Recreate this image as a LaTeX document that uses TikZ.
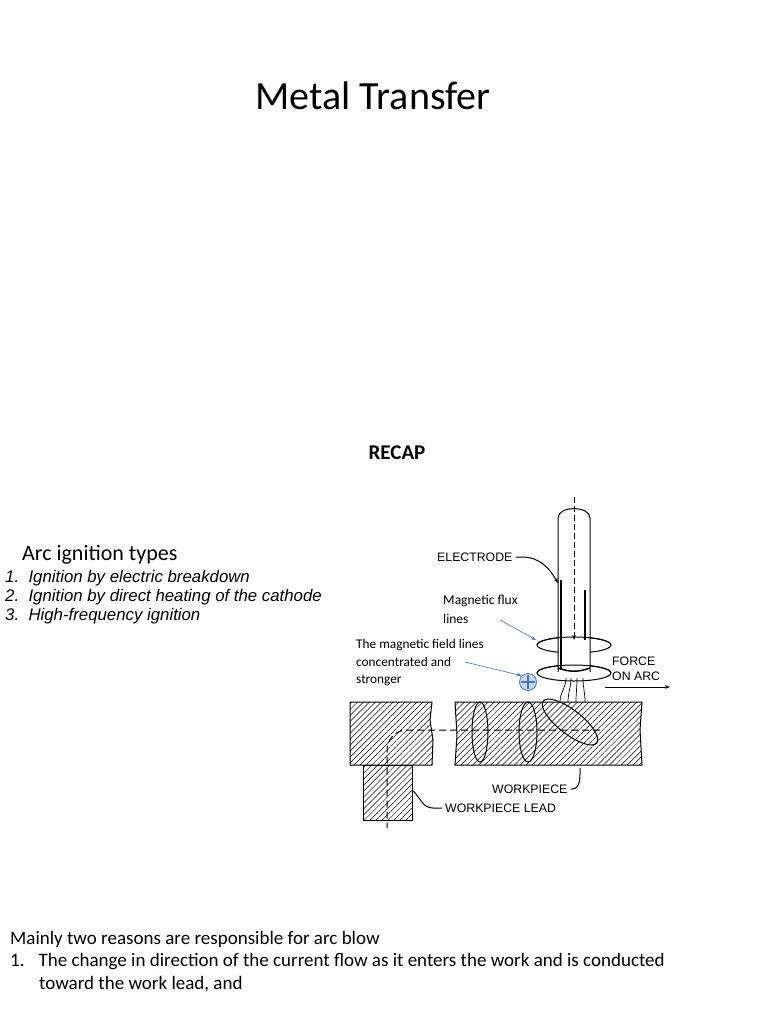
\documentclass[tikz,border=0pt]{standalone}
\usepackage{fontspec}
\setmainfont{Carlito}
\newfontfamily\arial{Liberation Sans}
\usetikzlibrary{patterns.meta,arrows.meta}
\definecolor{pblue}{RGB}{68,114,196}
\definecolor{pfill}{RGB}{200,215,240}
\begin{document}
\begin{tikzpicture}[x=1pt,y=-1pt,
  txt/.style={anchor=west,inner sep=0pt},
  lab/.style={anchor=west,inner sep=0pt,font=\arial\fontsize{12.3}{14}\selectfont},
  blk/.style={draw,line width=1pt,pattern={Lines[angle=45,distance=4.2pt,line width=0.5pt]}},
  ell/.style={draw,line width=1pt},
  blue/.style={draw=pblue,line width=0.6pt,-{Stealth[length=5pt]}}]
\useasboundingbox (0,0) rectangle (768,1024);
\fill[white] (0,0) rectangle (768,1024);
\node[inner sep=0pt] (title) at (373,96) {\fontsize{40}{44}\selectfont Metal Transfer};
\node[inner sep=0pt] (recap) at (397,453) {\fontsize{21}{24}\selectfont\bfseries RECAP};
\node[txt] (arc) at (22,555) {\fontsize{22}{26}\selectfont Arc ignition types};
\node[txt] (l1) at (5,578) {\arial\itshape\fontsize{16.8}{18}\selectfont 1.\ \ Ignition by electric breakdown};
\node[txt] (l2) at (5,597) {\arial\itshape\fontsize{16.8}{18}\selectfont 2.\ \ Ignition by direct heating of the cathode};
\node[txt] (l3) at (5,616) {\arial\itshape\fontsize{16.8}{18}\selectfont 3.\ \ High-frequency ignition};
\node[txt] (b1) at (10,939) {\fontsize{19}{23}\selectfont Mainly two reasons are responsible for arc blow};
\node[txt] (b2) at (10,962) {\fontsize{19}{23}\selectfont 1.\hspace{14pt}The change in direction of the current flow as it enters the work and is conducted};
\node[txt] (b3) at (39,984) {\fontsize{19}{23}\selectfont toward the work lead, and};
% workpiece
\draw[blk] (350,702) -- (432,702) -- (430,720) -- (433,740) -- (432,765) -- (350,765) -- cycle;
\draw[blk] (455,702) -- (642,702) -- (640,730) -- (642,765) -- (455,765) -- (457,735) -- cycle;
\draw[blk] (363,765) rectangle (412,820);
\draw[line width=1pt,dash pattern=on 7pt off 4pt] (600,730) -- (407,730) to[out=180,in=90] (387,750) -- (387,828);
% flux ellipses (behind electrode)
\draw[ell] (574,645) ellipse (37 and 8);
\draw[ell] (574,673) ellipse (37 and 8);
\draw[ell] (480,732) ellipse (8 and 30);
\draw[ell] (528,732) ellipse (9 and 30);
\draw[ell,rotate around={-38:(570,722)}] (570,722) ellipse (34 and 12);
% electrode
\fill[white] (558,513) rectangle (590,672);
\draw[line width=1pt] (558,672) -- (558,518) to[out=90,in=90] (590,518) -- (590,672);
\draw[line width=2pt] (561,580) -- (561,670);
\draw[line width=1.2pt] (585,590) -- (585,640);
\draw[line width=1.5pt] (558,668) to[out=-20,in=-160] (590,668);
\draw[line width=0.7pt,dash pattern=on 6pt off 3pt,-{Stealth[length=5pt]}] (574,497) -- (574,640);
\draw[ell] (537,645) arc[start angle=180,end angle=360,x radius=37,y radius=8];
\draw[ell] (537,673) arc[start angle=180,end angle=360,x radius=37,y radius=8];
% arc lines
\foreach \a/\b in {566/560,571/568,577/576,583/585}
  \draw[line width=0.7pt] (\a,678) to[out=-90,in=90] (\b,702);
% plus marker
\node[circle,draw=pblue,fill=pfill,minimum size=17pt,inner sep=0pt,line width=0.8pt] (plus) at (528,682) {};
\draw[line width=2.5pt,pblue] (528,675)--(528,689) (521,682)--(535,682);
% labels
\node[lab] (el) at (437,557) {ELECTRODE};
\draw[line width=1pt,-{Stealth[length=5pt]}] (el.east) ++(3,0) -- (522,557) to[out=0,in=120] (558,583);
\node[lab] (force) at (612,661) {FORCE};
\node[lab] (onarc) at (612,676) {ON ARC};
\coordinate (fa) at (605,687);
\coordinate (fb) at (670,687);
\draw[line width=0.8pt,-{Stealth[length=5pt]}] (fa) -- (fb);
\node[lab] (wp) at (492,789) {WORKPIECE};
\draw[line width=1pt] (wp.east) ++(3,0) -- (572,789) to[out=0,in=-90] (580,768);
\node[lab] (wl) at (445,808) {WORKPIECE LEAD};
\draw[line width=1pt] (wl.west) ++(-3,0) -- (433,808) to[out=180,in=-40] (412,790);
\node[txt,align=left,font=\fontsize{13.5}{19}\selectfont] (mf) at (443,609) {Magnetic flux\\lines};
\coordinate (mfe) at (536,640);
\draw[blue] (500,620) -- (mfe);
\node[txt,align=left,font=\fontsize{13.3}{17.5}\selectfont] (fl) at (356,663) {The magnetic field lines\\concentrated and\\stronger};
\draw[blue] (465,662) -- (plus.north west);
\end{tikzpicture}
\end{document}
